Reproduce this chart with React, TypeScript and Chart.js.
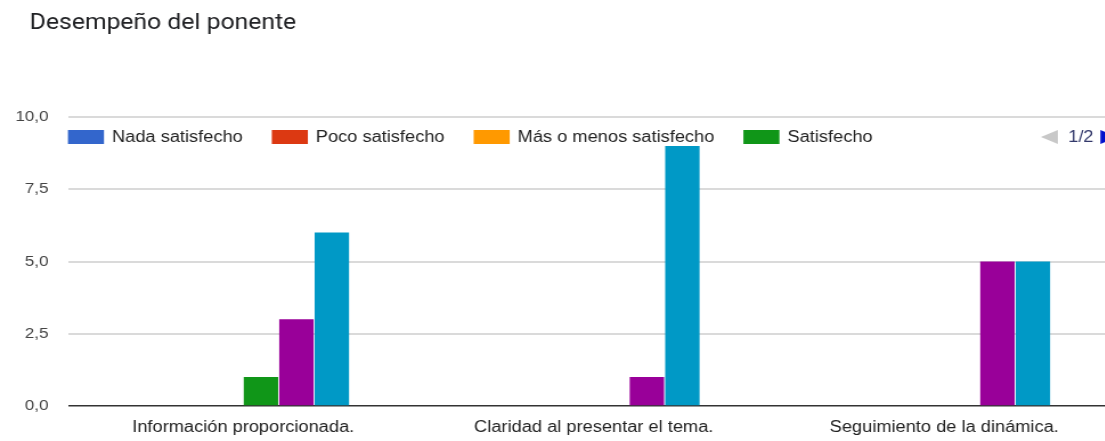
import React, { useEffect, useRef } from 'react';
import { Chart, registerables } from 'chart.js';

Chart.register(...registerables);

// ---------- data ----------
const chartTitle = 'Desempeño del ponente';
const categories = [
  'Información proporcionada.',
  'Claridad al presentar el tema.',
  'Seguimiento de la dinámica.',
];
const seriesNames = [
  'Nada satisfecho',
  'Poco satisfecho',
  'Más o menos satisfecho',
  'Satisfecho',
  'Muy satisfecho',
  'Totalmente satisfecho',
];
const nadaSatisfecho = [0, 0, 0];
const pocoSatisfecho = [0, 0, 0];
const masOMenosSatisfecho = [0, 0, 0];
const satisfecho = [1, 0, 0];
const muySatisfecho = [3, 1, 5];
const totalmenteSatisfecho = [6, 9, 5];
const seriesColors = ['#3366cc', '#dc3912', '#ff9900', '#109618', '#990099', '#0099c6'];
const yTickValues = [0, 2.5, 5, 7.5, 10];
const legendPageLabel = '1/2';
const legendItemsOnPage = 4;

// ---------- styling ----------
const SX = 1.14; // horizontal stretch of the reference picture
const CANVAS_W = 990;
const CANVAS_H = 441;
const FONT = '"Liberation Sans", Arial, sans-serif';

const titleAndLegend = {
  id: 'titleAndLegend',
  afterDraw(chart: any) {
    const { ctx, chartArea } = chart;
    ctx.save();
    // title
    ctx.font = `21.7px Roboto, ${FONT}`;
    ctx.fillStyle = '#202124';
    ctx.textAlign = 'left';
    ctx.textBaseline = 'alphabetic';
    ctx.fillText(chartTitle, 26, 28.5);

    // legend (page 1 of 2)
    const boxW = 31.6;
    const boxH = 14;
    const cy = 137;
    ctx.font = `16px ${FONT}`;
    ctx.textBaseline = 'middle';
    let x = chartArea.left;
    chart.data.datasets.slice(0, legendItemsOnPage).forEach((ds: any) => {
      ctx.fillStyle = ds.backgroundColor;
      ctx.fillRect(x, cy - boxH / 2, boxW, boxH);
      const tx = x + boxW + 7;
      ctx.fillStyle = '#222222';
      ctx.fillText(ds.label, tx, cy + 1);
      x = tx + ctx.measureText(ds.label).width + 25.5;
    });
    // pager
    const px = chartArea.right - 69;
    ctx.fillStyle = '#c8c8c8';
    ctx.beginPath();
    ctx.moveTo(px, cy);
    ctx.lineTo(px + 15, cy - 7);
    ctx.lineTo(px + 15, cy + 7);
    ctx.closePath();
    ctx.fill();
    ctx.fillStyle = '#33396b';
    ctx.fillText(legendPageLabel, px + 24, cy + 1);
    const rx = px + ctx.measureText(legendPageLabel).width + 30;
    ctx.fillStyle = '#0011cc';
    ctx.beginPath();
    ctx.moveTo(rx + 15, cy);
    ctx.lineTo(rx, cy - 7);
    ctx.lineTo(rx, cy + 7);
    ctx.closePath();
    ctx.fill();
    ctx.restore();
  },
};

export default function App() {
  const canvasRef = useRef<HTMLCanvasElement | null>(null);

  useEffect(() => {
    document.body.style.margin = '0';
    const canvas = canvasRef.current;
    if (!canvas) return;
    const seriesValues = [
      nadaSatisfecho,
      pocoSatisfecho,
      masOMenosSatisfecho,
      satisfecho,
      muySatisfecho,
      totalmenteSatisfecho,
    ];
    const chart = new Chart(canvas, {
      type: 'bar',
      data: {
        labels: categories,
        datasets: seriesNames.map((name, i) => ({
          label: name,
          data: seriesValues[i],
          backgroundColor: seriesColors[i],
          borderWidth: 0,
          categoryPercentage: 0.607,
          barPercentage: 0.97,
        })),
      },
      options: {
        responsive: false,
        maintainAspectRatio: false,
        animation: false,
        devicePixelRatio: 1,
        layout: { padding: { left: 0, right: 8, top: 117, bottom: 0 } },
        plugins: {
          legend: { display: false },
          tooltip: { enabled: false },
          title: { display: false },
        },
        scales: {
          x: {
            afterFit: (s: any) => {
              s.height = 35;
            },
            grid: { display: false },
            border: { display: false },
            ticks: {
              color: '#222222',
              font: { family: FONT, size: 16 },
              padding: 4,
              maxRotation: 0,
              autoSkip: false,
            },
          },
          y: {
            min: 0,
            max: 10,
            afterFit: (s: any) => {
              s.width = 59.6;
            },
            afterBuildTicks: (s: any) => {
              s.ticks = yTickValues.map((v) => ({ value: v }));
            },
            grid: {
              color: (c: any) => (c.tick && c.tick.value === 0 ? '#333333' : '#dadada'),
              lineWidth: (c: any) => (c.tick && c.tick.value === 0 ? 1.6 : 2),
              drawTicks: false,
            },
            border: { display: false },
            ticks: {
              padding: 17,
              color: '#444444',
              font: { family: FONT, size: 15 },
              callback: (v: any) => Number(v).toFixed(1).replace('.', ','),
            },
          },
        },
      },
      plugins: [titleAndLegend],
    });
    return () => chart.destroy();
  }, []);

  return (
    <div style={{ width: 1105, height: 441, overflow: 'hidden', position: 'relative', background: '#fff' }}>
      <div
        style={{
          width: CANVAS_W,
          height: CANVAS_H,
          transform: `scaleX(${SX})`,
          transformOrigin: '0 0',
        }}
      >
        <canvas ref={canvasRef} width={CANVAS_W} height={CANVAS_H} />
      </div>
    </div>
  );
}
